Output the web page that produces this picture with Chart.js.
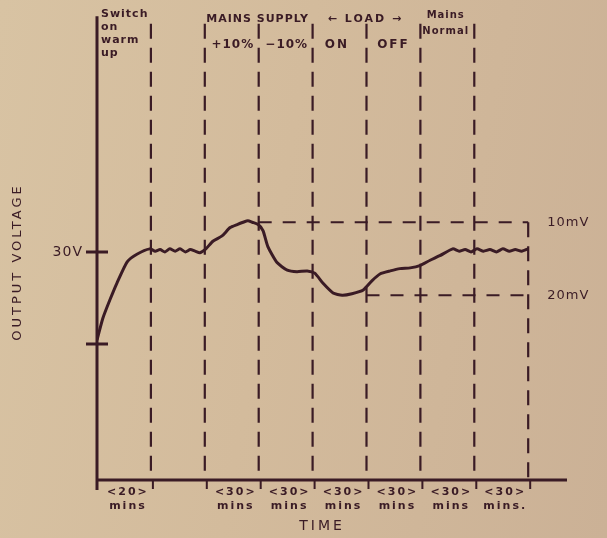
<!DOCTYPE html>
<html>
<head>
<meta charset="utf-8">
<script src="https://cdn.jsdelivr.net/npm/chart.js@4/dist/chart.umd.min.js"></script>
<style>
  html, body { margin: 0; padding: 0; }
  body {
    width: 607px; height: 538px; overflow: hidden;
    background: linear-gradient(100deg, #d8c3a3 0%, #d3bb9c 45%, #cbb196 100%);
  }
  #wrap { position: relative; width: 607px; height: 538px; }
</style>
</head>
<body>
<div id="wrap"><canvas id="myChart" width="607" height="538"></canvas></div>
<script>
// time in "segments" (hand drawn, each period about the same width)
var curveX = [0, 0.11, 0.24, 0.37, 0.56, 0.74, 0.98, 1.08, 1.17, 1.26, 1.35, 1.45, 1.54, 1.64, 1.73, 1.82, 1.91, 2.02, 2.15, 2.32, 2.47, 2.60, 2.71, 2.80, 2.88, 2.99, 3.08, 3.17, 3.34, 3.53, 3.71, 3.90, 4.04, 4.19, 4.38, 4.55, 4.73, 4.94, 5.10, 5.25, 5.44, 5.62, 5.81, 5.99, 6.18, 6.36, 6.60, 6.72, 6.83, 6.94, 7.05, 7.17, 7.29, 7.41, 7.53, 7.65, 7.76, 7.88, 8.0];
var curveY = [18.4, 21.3, 23.7, 25.9, 28.7, 29.7, 30.4, 30.1, 30.3, 30.0, 30.4, 30.1, 30.4, 30.0, 30.3, 30.1, 29.9, 30.4, 31.4, 32.1, 33.2, 33.6, 33.9, 34.1, 33.9, 33.6, 32.8, 30.7, 28.6, 27.6, 27.4, 27.5, 27.2, 25.9, 24.6, 24.3, 24.5, 25.0, 26.2, 27.1, 27.5, 27.8, 27.9, 28.2, 28.9, 29.5, 30.4, 30.1, 30.3, 30.0, 30.4, 30.1, 30.3, 30.0, 30.4, 30.1, 30.3, 30.1, 30.4];

var boundaries = [1, 2, 3, 4, 5, 6, 7, 8];
var boundaryTop = [60, 60, 60, 60, 60, 60, 60, 33.9];

var levelNames = ['10mV', '20mV'];
var levelY = [33.9, 24.3];
var levelFrom = [3, 5];
var levelTo = [8, 8];

var yTicks = [30, 17.9];
var yTickLabels = ['30V', ''];

var periodLabels = ['<20>', '', '<30>', '<30>', '<30>', '<30>', '<30>', '<30>'];
var periodUnits = ['mins', '', 'mins', 'mins', 'mins', 'mins', 'mins', 'mins.'];

var ink = '#3a1b25';

var datasets = [];
var pts = [];
for (var i = 0; i < curveX.length; i++) {
    pts.push({ x: curveX[i], y: curveY[i] });
}
datasets.push({ data: pts, borderColor: ink, borderWidth: 3, pointRadius: 0, tension: 0.2 });
for (var b = 0; b < boundaries.length; b++) {
    datasets.push({
        data: [{ x: boundaries[b], y: boundaryTop[b] }, { x: boundaries[b], y: 0 }],
        borderColor: ink, borderWidth: 2.2, borderDash: [15, 9], pointRadius: 0
    });
}
for (var l = 0; l < levelNames.length; l++) {
    datasets.push({
        data: [{ x: levelFrom[l], y: levelY[l] }, { x: levelTo[l], y: levelY[l] }],
        borderColor: ink, borderWidth: 2.2, borderDash: [13, 11], pointRadius: 0
    });
}

var sketch = {
    id: 'sketch',
    afterDraw: function (chart) {
        var c = chart.ctx;
        var xs = chart.scales.x, ys = chart.scales.y;
        var x0 = xs.getPixelForValue(0), yb = ys.getPixelForValue(0);
        c.save();
        c.strokeStyle = ink;
        c.fillStyle = ink;
        c.lineWidth = 3;
        // axes
        c.beginPath();
        c.moveTo(x0, ys.getPixelForValue(61));
        c.lineTo(x0, yb + 10);
        c.moveTo(x0, yb);
        c.lineTo(xs.getPixelForValue(8.72), yb);
        c.stroke();
        c.lineWidth = 2;
        c.beginPath();
        for (var i = 0; i < boundaries.length; i++) {
            var bx = xs.getPixelForValue(boundaries[i]);
            c.moveTo(bx + 2, yb);
            c.lineTo(bx + 2, yb + 9);
        }
        c.stroke();
        c.lineWidth = 3;
        c.beginPath();
        for (var t = 0; t < yTicks.length; t++) {
            var ty = ys.getPixelForValue(yTicks[t]);
            c.moveTo(x0 - 11, ty);
            c.lineTo(x0 + 11, ty);
        }
        c.stroke();

        c.textBaseline = 'middle';
        c.font = '14px "DejaVu Sans"';
        c.letterSpacing = '1px';
        c.textAlign = 'right';
        for (var t2 = 0; t2 < yTicks.length; t2++) {
            c.fillText(yTickLabels[t2], x0 - 14, ys.getPixelForValue(yTicks[t2]));
        }
        // period labels under the axis
        c.textAlign = 'center';
        c.font = 'bold 11px "DejaVu Sans"';
        c.letterSpacing = '2px';
        for (var p = 0; p < periodLabels.length; p++) {
            var cx = xs.getPixelForValue(p + 0.5) + 4;
            c.fillText(periodLabels[p], cx, yb + 12);
            c.fillText(periodUnits[p], cx, yb + 26);
        }
        // level labels
        c.textAlign = 'left';
        c.font = '13px "DejaVu Sans"';
        c.letterSpacing = '1px';
        for (var l = 0; l < levelNames.length; l++) {
            c.fillText(levelNames[l], xs.getPixelForValue(levelTo[l]) + 19, ys.getPixelForValue(levelY[l]));
        }
        // headers
        c.font = 'bold 11px "DejaVu Sans"';
        c.textAlign = 'left';
        c.fillText('Switch', x0 + 4, 14);
        c.fillText('on', x0 + 4, 27);
        c.fillText('warm', x0 + 4, 40);
        c.fillText('up', x0 + 4, 53);
        c.textAlign = 'center';
        c.font = 'bold 11px "DejaVu Sans"';
        c.fillText('MAINS SUPPLY', xs.getPixelForValue(2.98), 19);
        c.letterSpacing = '2px';
        c.fillText('\u2190 LOAD \u2192', xs.getPixelForValue(4.98), 19);
        c.font = 'bold 12px "DejaVu Sans"';
        c.letterSpacing = '1px';
        c.fillText('+10%', xs.getPixelForValue(2.52), 45);
        c.fillText('\u221210%', xs.getPixelForValue(3.52), 45);
        c.letterSpacing = '2px';
        c.fillText('ON', xs.getPixelForValue(4.45), 45);
        c.fillText('OFF', xs.getPixelForValue(5.5), 45);
        c.font = 'bold 10px "DejaVu Sans"';
        c.letterSpacing = '1px';
        c.fillText('Mains', xs.getPixelForValue(6.47), 15);
        c.fillText('Normal', xs.getPixelForValue(6.47), 31);
        // axis titles
        c.font = '14px "DejaVu Sans"';
        c.letterSpacing = '3px';
        c.fillText('TIME', 322, 526);
        c.translate(18, 262);
        c.rotate(-Math.PI / 2);
        c.font = '13px "DejaVu Sans"';
        c.fillText('OUTPUT VOLTAGE', 0, 0);
        c.restore();
    }
};

const ctx = document.getElementById('myChart').getContext('2d');
const myChart = new Chart(ctx, {
    type: 'line',
    data: { datasets: datasets },
    options: {
        responsive: false,
        animation: false,
        layout: { padding: { left: 97, right: 40, top: 20, bottom: 58 } },
        plugins: { legend: { display: false }, tooltip: { enabled: false } },
        scales: {
            x: { type: 'linear', min: 0, max: 8.72, display: false },
            y: { min: 0, max: 60.5, display: false }
        }
    },
    plugins: [sketch]
});
</script>
</body>
</html>
